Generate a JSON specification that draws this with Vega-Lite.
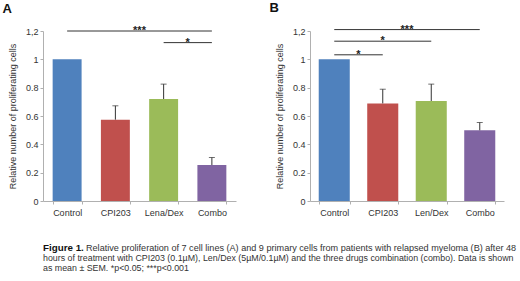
{
  "$schema": "https://vega.github.io/schema/vega-lite/v6.json",
  "background": "white",
  "padding": {"left": 2, "top": 1, "right": 0, "bottom": 0},
  "config": {
    "font": "Liberation Sans",
    "view": {"stroke": null},
    "axis": {
      "grid": false,
      "domainColor": "#b0b0b0",
      "tickColor": "#b0b0b0",
      "tickSize": 3,
      "labelFontSize": 9,
      "labelColor": "#333333",
      "titleFontSize": 9,
      "titleFontWeight": "normal",
      "titleColor": "#333333",
      "labelFont": "Liberation Sans",
      "titleFont": "Liberation Sans",
      "labelOverlap": false
    },
    "axisY": {
      "values": [0, 0.2, 0.4, 0.6, 0.8, 1, 1.2],
      "labelExpr": "datum.value > 1.1 ? '1,2' : (datum.value > 0.9 ? '1' : (datum.value < 0.1 ? '0' : format(datum.value, '.1f')))",
      "labelPadding": 2,
      "titlePadding": 8,
      "labelOverlap": false,
      "labelSeparation": 0
    },
    "title": {"font": "Liberation Sans", "fontSize": 13, "fontWeight": "bold", "color": "#111111", "anchor": "start", "frame": "bounds", "offset": 9, "dx": -6}
  },
  "datasets": {
    "barsA": [
      {"group": "Control", "value": 1.0, "upper": null},
      {"group": "CPI203", "value": 0.574, "upper": 0.672},
      {"group": "Lena/Dex", "value": 0.72, "upper": 0.825},
      {"group": "Combo", "value": 0.254, "upper": 0.307}
    ],
    "barsB": [
      {"group": "Control", "value": 1.0, "upper": null},
      {"group": "CPI203", "value": 0.689, "upper": 0.789},
      {"group": "Len/Dex", "value": 0.706, "upper": 0.825},
      {"group": "Combo", "value": 0.499, "upper": 0.554}
    ],
    "sigA": [
      {"from": "Control", "to": "Combo", "level": 1.2, "label": "***", "mid": 2.0},
      {"from": "Lena/Dex", "to": "Combo", "level": 1.118, "label": "*", "mid": 3.0}
    ],
    "sigB": [
      {"from": "Control", "to": "Combo", "level": 1.21, "label": "***", "mid": 2.0},
      {"from": "Control", "to": "Len/Dex", "level": 1.128, "label": "*", "mid": 1.5},
      {"from": "Control", "to": "CPI203", "level": 1.032, "label": "*", "mid": 1.0}
    ],
    "caption": [
      {"line": 1, "part": "bold", "text": "Figure 1."},
      {"line": 1, "part": "lead", "text": "Relative proliferation of 7 cell lines (A) and 9 primary cells from patients with relapsed myeloma  (B) after 48"},
      {"line": 2, "part": "body", "text": "hours of treatment with CPI203 (0.1µM), Len/Dex (5µM/0.1µM) and the three drugs combination (combo). Data is shown"},
      {"line": 3, "part": "body", "text": "as mean ± SEM. *p<0.05; ***p<0.001"}
    ]
  },
  "vconcat": [
    {
      "hconcat": [
        {
          "width": 193,
          "height": 170,
          "title": {"text": "A"},
          "resolve": {"scale": {"x": "independent"}},
          "layer": [
            {
              "layer": [
                {
                  "data": {"name": "barsA"},
                  "mark": {"type": "bar"},
                  "encoding": {
                    "x": {"field": "group", "type": "nominal", "sort": null,
                      "scale": {"domain": ["Control", "CPI203", "Lena/Dex", "Combo"], "paddingInner": 0.4, "paddingOuter": 0.2},
                      "axis": {"title": null, "labelAngle": 0, "tickBand": "extent", "labelPadding": 4}},
                    "y": {"field": "value", "type": "quantitative", "title": "Relative number of proliferating cells", "scale": {"domain": [0, 1.2], "nice": false}},
                    "color": {"field": "group", "type": "nominal", "legend": null,
                      "scale": {"domain": ["Control", "CPI203", "Lena/Dex", "Combo"], "range": ["#4F81BD", "#C0504D", "#9BBB59", "#8064A2"]}}
                  }
                },
                {
                  "data": {"name": "barsA"},
                  "transform": [{"filter": "datum.upper != null"}],
                  "mark": {"type": "rule", "color": "#333333", "strokeWidth": 1},
                  "encoding": {
                    "x": {"field": "group", "type": "nominal"},
                    "y": {"field": "value", "type": "quantitative", "title": "Relative number of proliferating cells"},
                    "y2": {"field": "upper"}
                  }
                },
                {
                  "data": {"name": "barsA"},
                  "transform": [{"filter": "datum.upper != null"}],
                  "mark": {"type": "tick", "color": "#333333", "thickness": 1, "size": 6},
                  "encoding": {
                    "x": {"field": "group", "type": "nominal"},
                    "y": {"field": "upper", "type": "quantitative", "title": "Relative number of proliferating cells"}
                  }
                },
                {
                  "data": {"name": "sigA"},
                  "mark": {"type": "rule", "color": "#333333", "strokeWidth": 1},
                  "encoding": {
                    "x": {"field": "from", "type": "nominal"},
                    "x2": {"field": "to"},
                    "y": {"field": "level", "type": "quantitative", "title": "Relative number of proliferating cells"}
                  }
                }
              ]
            },
            {
              "data": {"name": "sigA"},
              "mark": {"type": "text", "fontSize": 11, "fontWeight": "bold", "color": "#222222", "baseline": "alphabetic", "dy": 3},
              "encoding": {
                "x": {"field": "mid", "type": "quantitative", "scale": {"domain": [0, 4], "nice": false, "zero": false}, "axis": null},
                "y": {"field": "level", "type": "quantitative", "title": "Relative number of proliferating cells"},
                "text": {"field": "label"}
              }
            }
          ]
        },
        {
          "width": 194,
          "height": 170,
          "title": {"text": "B"},
          "resolve": {"scale": {"x": "independent"}},
          "layer": [
            {
              "layer": [
                {
                  "data": {"name": "barsB"},
                  "mark": {"type": "bar"},
                  "encoding": {
                    "x": {"field": "group", "type": "nominal", "sort": null,
                      "scale": {"domain": ["Control", "CPI203", "Len/Dex", "Combo"], "paddingInner": 0.36, "paddingOuter": 0.18},
                      "axis": {"title": null, "labelAngle": 0, "tickBand": "extent", "labelPadding": 4}},
                    "y": {"field": "value", "type": "quantitative", "title": "Relative number of proliferating cells", "scale": {"domain": [0, 1.2], "nice": false}},
                    "color": {"field": "group", "type": "nominal", "legend": null,
                      "scale": {"domain": ["Control", "CPI203", "Len/Dex", "Combo"], "range": ["#4F81BD", "#C0504D", "#9BBB59", "#8064A2"]}}
                  }
                },
                {
                  "data": {"name": "barsB"},
                  "transform": [{"filter": "datum.upper != null"}],
                  "mark": {"type": "rule", "color": "#333333", "strokeWidth": 1},
                  "encoding": {
                    "x": {"field": "group", "type": "nominal"},
                    "y": {"field": "value", "type": "quantitative", "title": "Relative number of proliferating cells"},
                    "y2": {"field": "upper"}
                  }
                },
                {
                  "data": {"name": "barsB"},
                  "transform": [{"filter": "datum.upper != null"}],
                  "mark": {"type": "tick", "color": "#333333", "thickness": 1, "size": 6},
                  "encoding": {
                    "x": {"field": "group", "type": "nominal"},
                    "y": {"field": "upper", "type": "quantitative", "title": "Relative number of proliferating cells"}
                  }
                },
                {
                  "data": {"name": "sigB"},
                  "mark": {"type": "rule", "color": "#333333", "strokeWidth": 1},
                  "encoding": {
                    "x": {"field": "from", "type": "nominal"},
                    "x2": {"field": "to"},
                    "y": {"field": "level", "type": "quantitative", "title": "Relative number of proliferating cells"}
                  }
                }
              ]
            },
            {
              "data": {"name": "sigB"},
              "mark": {"type": "text", "fontSize": 11, "fontWeight": "bold", "color": "#222222", "baseline": "alphabetic", "dy": 3},
              "encoding": {
                "x": {"field": "mid", "type": "quantitative", "scale": {"domain": [0, 4], "nice": false, "zero": false}, "axis": null},
                "y": {"field": "level", "type": "quantitative", "title": "Relative number of proliferating cells"},
                "text": {"field": "label"}
              }
            }
          ]
        }
      ],
      "spacing": 33,
      "resolve": {"scale": {"color": "independent", "y": "independent"}}
    },
    {
      "width": 510,
      "height": 30,
      "data": {"name": "caption"},
      "encoding": {
        "y": {"field": "line", "type": "ordinal", "axis": null, "scale": {"domain": [1, 2, 3], "paddingInner": 0, "paddingOuter": 0}},
        "x": {"value": 0},
        "text": {"field": "text"}
      },
      "layer": [
        {
          "transform": [{"filter": "datum.part == 'bold'"}],
          "mark": {"type": "text", "align": "left", "baseline": "middle", "fontSize": 9.8, "fontWeight": "bold", "color": "#111111"}
        },
        {
          "transform": [{"filter": "datum.part == 'lead'"}],
          "mark": {"type": "text", "align": "left", "baseline": "middle", "fontSize": 9.1, "color": "#333333", "dx": 43}
        },
        {
          "transform": [{"filter": "datum.part == 'body'"}],
          "mark": {"type": "text", "align": "left", "baseline": "middle", "fontSize": 8.85, "color": "#333333"}
        }
      ]
    }
  ],
  "spacing": 26
}
